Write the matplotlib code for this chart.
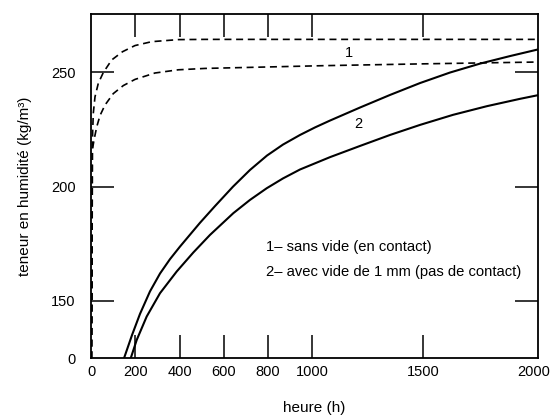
import numpy as np
import matplotlib
matplotlib.use("Agg")
import matplotlib.pyplot as plt

plt.rcParams['font.family'] = ['Liberation Sans', 'DejaVu Sans']

# ── data (heure en h, teneur en kg/m3) ──────────────────────────────────────
# 1 - sans vide (en contact): two dashed curves
h_1a = [3, 4.5, 6, 7.7, 10.4, 18.1, 33, 55.6, 93.5, 142.3, 198.8, 274.3, 394.5,
        515.2, 1000, 1500, 2020]
w_1a = [0, 150, 216, 224.8, 232.1, 239.3, 245.2, 249.9, 255.4, 259, 261.7, 263.4,
        264.3, 264.4, 264.4, 264.4, 264.4]

h_1b = [3, 4.5, 6, 13.6, 25.8, 40.7, 63.3, 100.8, 146, 198.8, 289.2, 394.5, 515.2,
        1048.4, 1500, 2020]
w_1b = [0, 150, 216, 220.4, 226.1, 231.1, 235.7, 240.7, 244.2, 246.9, 249.7, 251.1,
        251.7, 252.9, 253.7, 254.5]

# 2 - avec vide de 1 mm (pas de contact): two solid curves
h_2a = [149.1, 185.3, 221.4, 266.6, 311.8, 357, 402.2, 447.4, 492.6, 560.4, 641.7,
        718.5, 795.3, 867.6, 944.5, 1012.3, 1080, 1215.6, 1351.2, 1486.8, 1622.3,
        1757.9, 1893.5, 2020]
w_2a = [0, 60.7, 116.2, 154.2, 162.0, 168.3, 173.8, 179.0, 184.2, 191.5, 200.0,
        207.3, 213.6, 218.4, 222.6, 225.9, 228.9, 234.6, 240.1, 245.3, 249.9,
        253.8, 257.1, 260.0]

h_2b = [179.4, 206.5, 251.7, 311.8, 387.3, 462.3, 537.8, 643.1, 718.5, 794, 867.6,
        944.5, 1080, 1215.6, 1351.2, 1486.8, 1635.9, 1789.5, 1938.7, 2020]
w_2b = [0, 47.9, 109.4, 153.4, 162.9, 171.2, 178.9, 188.4, 194.2, 199.3, 203.6,
        207.5, 212.9, 217.8, 222.6, 227.0, 231.4, 235.2, 238.4, 240.0]

x_ticks = [0, 200, 400, 600, 800, 1000, 1500, 2000]
y_ticks = [0, 150, 200, 250]

legend_lines = ["1\u2013 sans vide (en contact)",
                "2\u2013 avec vide de 1 mm (pas de contact)"]

# broken y axis: 0..150 squeezed into a short band below 150
K_BREAK = 0.1671


def fwd(y):
    y = np.asarray(y, dtype=float)
    return np.where(y >= 150, y, 150 - (150 - y) * K_BREAK)


def inv(z):
    z = np.asarray(z, dtype=float)
    return np.where(z >= 150, z, 150 - (150 - z) / K_BREAK)


fig = plt.figure(figsize=(5.56, 4.20), dpi=100)
ax = fig.add_axes([91 / 556, 1 - 358.3 / 420, (538 - 91) / 556, (358.3 - 14) / 420])
ax.set_yscale('function', functions=(fwd, inv))

ax.plot(h_1a, w_1a, color='black', lw=1.2, dashes=(4.2, 2.8))
ax.plot(h_1b, w_1b, color='black', lw=1.2, dashes=(4.2, 2.8))
ax.plot(h_2a, w_2a, color='black', lw=1.5)
ax.plot(h_2b, w_2b, color='black', lw=1.5)

ax.set_xlim(0, 2020)
ax.set_ylim(0, 275.5)
ax.set_xticks(x_ticks)
ax.set_yticks(y_ticks)
ax.tick_params(axis='both', direction='in', length=16.5, width=1.1, labelsize=10.5,
               top=True, right=True)
ax.tick_params(axis='x', pad=5)
ax.tick_params(axis='y', pad=11)
for t in (ax.xaxis.get_major_ticks()[0], ax.xaxis.get_major_ticks()[-1]):
    t.tick1line.set_visible(False)
    t.tick2line.set_visible(False)
ax.yaxis.get_major_ticks()[0].tick1line.set_visible(False)
ax.yaxis.get_major_ticks()[0].tick2line.set_visible(False)
for s in ax.spines.values():
    s.set_linewidth(1.3)

ax.set_xlabel('heure (h)', fontsize=11, labelpad=16)
ax.set_ylabel('teneur en humidité (kg/m³)', fontsize=11, labelpad=14)

ax.text(1166, 258.4, '1', fontsize=10.5, ha='center', va='center')
ax.text(1206, 227.4, '2', fontsize=10.5, ha='center', va='center')
ax.text(791, 173.6, legend_lines[0], fontsize=10.6, ha='left', va='center')
ax.text(791, 162.6, legend_lines[1], fontsize=10.6, ha='left', va='center')

fig.savefig('out.png', dpi=100)
